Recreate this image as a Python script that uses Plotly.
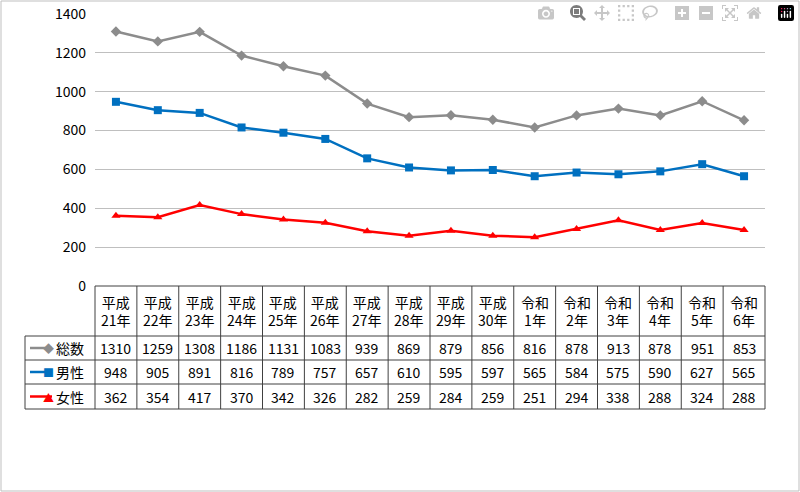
import plotly.graph_objects as go

cats = ["平成<br>21年","平成<br>22年","平成<br>23年","平成<br>24年","平成<br>25年","平成<br>26年","平成<br>27年","平成<br>28年","平成<br>29年","平成<br>30年","令和<br>1年","令和<br>2年","令和<br>3年","令和<br>4年","令和<br>5年","令和<br>6年"]
total = [1310,1259,1308,1186,1131,1083,939,869,879,856,816,878,913,878,951,853]
male = [948,905,891,816,789,757,657,610,595,597,565,584,575,590,627,565]
female = [362,354,417,370,342,326,282,259,284,259,251,294,338,288,324,288]
names = ["総数","男性","女性"]
colors = ["#8c8c8c","#0070C0","#FF0000"]
symbols = ["diamond","square","triangle-up"]
series = [total, male, female]

L, T, W, H = 95, 14, 670, 272
FONT = "Noto Sans CJK JP"
def px(x): return (x - L) / W
def py(y): return (T + H - y) / H

fig = go.Figure()
xs = list(range(len(cats)))
for n, s, c, m in zip(names, series, colors, symbols):
    fig.add_trace(go.Scatter(x=xs, y=s, name=n, mode="lines+markers",
        line=dict(color=c, width=2.5), marker=dict(symbol=m, size=8, color=c)))

shapes, ann = [], []
rows = [286, 336, 360, 384, 409]
lc = "#404040"
shapes.append(dict(type="line", xref="paper", yref="paper", x0=0, x1=1, y0=py(rows[0]), y1=py(rows[0]), line=dict(color=lc, width=1)))
for r in rows[1:]:
    shapes.append(dict(type="line", xref="paper", yref="paper", x0=px(25), x1=1, y0=py(r), y1=py(r), line=dict(color=lc, width=1)))
for i in range(len(cats) + 1):
    shapes.append(dict(type="line", xref="paper", yref="paper", x0=i/len(cats), x1=i/len(cats), y0=py(rows[0]), y1=py(rows[-1]), line=dict(color=lc, width=1)))
shapes.append(dict(type="line", xref="paper", yref="paper", x0=px(25), x1=px(25), y0=py(rows[1]), y1=py(rows[-1]), line=dict(color=lc, width=1)))
shapes.append(dict(type="rect", xref="paper", yref="paper", x0=px(1), x1=px(799), y0=py(491), y1=py(1), line=dict(color="#bfbfbf", width=1)))

for i, c in enumerate(cats):
    ann.append(dict(x=i, y=py(311), xref="x", yref="paper", yanchor="middle", text=c, showarrow=False, font=dict(size=14, color="#000", family=FONT)))
for k, (n, s, col, sym) in enumerate(zip(names, series, colors, symbols)):
    ycp = (rows[k+1] + rows[k+2]) / 2
    yc = py(ycp)
    shapes.append(dict(type="line", xref="paper", yref="paper", x0=px(30), x1=px(52), y0=yc, y1=yc, line=dict(color=col, width=2.5)))
    ch = {"diamond": "◆", "square": "■", "triangle-up": "▲"}[sym]
    ann.append(dict(x=px(41), y=yc, xref="paper", yref="paper", yanchor="middle", text=ch, showarrow=False, font=dict(size=11, color=col)))
    ann.append(dict(x=px(54), y=yc, xref="paper", yref="paper", xanchor="left", yanchor="middle", text=n, showarrow=False, font=dict(size=14, color="#000", family=FONT)))
    for i, v in enumerate(s):
        ann.append(dict(x=i, y=yc, xref="x", yref="paper", yanchor="middle", text=str(v), showarrow=False, font=dict(size=14, color="#000", family=FONT)))

fig.update_layout(width=800, height=492, margin=dict(l=L, r=800-L-W, t=T, b=492-T-H, autoexpand=False),
    paper_bgcolor="white", plot_bgcolor="white", showlegend=False,
    font=dict(family=FONT, size=14, color="#000"), shapes=shapes, annotations=ann,
    xaxis=dict(range=[-0.5, 15.5], showticklabels=False, showgrid=False, zeroline=False),
    yaxis=dict(range=[0, 1400], dtick=200, gridcolor="#bfbfbf", zeroline=False, ticks="", ticklabelstandoff=8))
fig.write_html("out.html", config={"responsive": False},
    post_script="document.body.style.margin='0';document.body.style.padding='0';")
